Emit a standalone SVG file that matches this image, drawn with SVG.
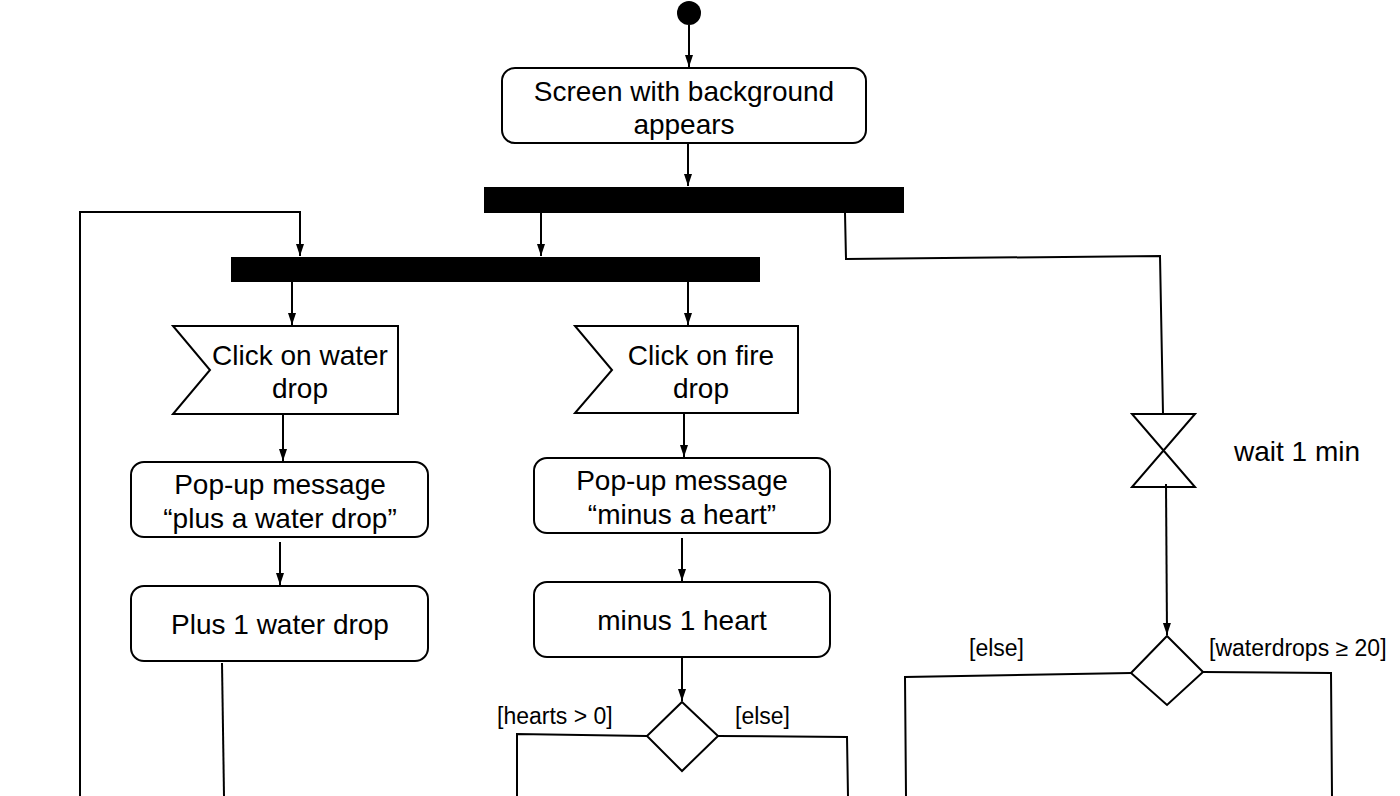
<svg xmlns="http://www.w3.org/2000/svg" width="1400" height="796" viewBox="0 0 1400 796">
<style>
.n{fill:#fff;stroke:#000;stroke-width:2}
.bar{fill:#000}
.c{fill:none;stroke:#000;stroke-width:2}
.t{font-family:"Liberation Sans",Arial,sans-serif;font-size:28px;fill:#000;text-anchor:middle}
.l{font-family:"Liberation Sans",Arial,sans-serif;font-size:23px;fill:#000}
</style>
<defs>
<marker id="a" markerWidth="12" markerHeight="10" refX="12" refY="5" orient="auto" markerUnits="userSpaceOnUse">
<path d="M0,1 L12,5 L0,9 Z" fill="#000"/>
</marker>
</defs>
<rect width="1400" height="796" fill="#fff"/>
<g id="start"><circle cx="689" cy="13" r="12" fill="#000"/></g>
<g id="screen"><rect class="n" x="502" y="68" width="364" height="75" rx="13"/>
<text class="t" x="684" y="101">Screen with background</text><text class="t" x="684" y="134">appears</text></g>
<g id="fork1"><rect class="bar" x="484" y="187" width="420" height="26"/></g>
<g id="fork2"><rect class="bar" x="231" y="257" width="529" height="25"/></g>
<g id="clickWater"><path class="n" d="M173,326 L398,326 L398,414 L173,414 L210,370 Z"/>
<text class="t" x="300" y="365">Click on water</text><text class="t" x="300" y="398">drop</text></g>
<g id="clickFire"><path class="n" d="M575,326 L798,326 L798,413 L575,413 L612,370 Z"/>
<text class="t" x="701" y="365">Click on fire</text><text class="t" x="701" y="398">drop</text></g>
<g id="popWater"><rect class="n" x="131" y="462" width="297" height="75" rx="13"/>
<text class="t" x="280" y="494">Pop-up message</text><text class="t" x="280" y="528">“plus a water drop”</text></g>
<g id="plusWater"><rect class="n" x="131" y="586" width="297" height="75" rx="13"/>
<text class="t" x="280" y="634">Plus 1 water drop</text></g>
<g id="popFire"><rect class="n" x="534" y="458" width="296" height="75" rx="13"/>
<text class="t" x="682" y="490">Pop-up message</text><text class="t" x="682" y="524">“minus a heart”</text></g>
<g id="minusHeart"><rect class="n" x="534" y="582" width="296" height="75" rx="13"/>
<text class="t" x="682" y="630">minus 1 heart</text></g>
<g id="decHearts"><path class="n" d="M682,702 L718,736 L682,771 L647,736 Z"/></g>
<g id="wait"><path class="n" d="M1132,414 L1195,414 L1132,487 L1195,487 Z"/>
<text class="t" x="1297" y="461">wait 1 min</text></g>
<g id="decWater"><path class="n" d="M1167,636 L1203,672 L1167,705 L1131,673 Z"/></g>
<g id="connectors">
<line class="c" x1="689" y1="25" x2="689" y2="67" marker-end="url(#a)"/>
<line class="c" x1="688" y1="143" x2="688" y2="186" marker-end="url(#a)"/>
<line class="c" x1="541" y1="213" x2="541" y2="256" marker-end="url(#a)"/>
<polyline class="c" points="80,796 80,212 300,212 300,256" marker-end="url(#a)"/>
<polyline class="c" points="845,213 846,259 1160,256 1163,414"/>
<line class="c" x1="292" y1="282" x2="292" y2="325" marker-end="url(#a)"/>
<line class="c" x1="688" y1="282" x2="688" y2="325" marker-end="url(#a)"/>
<line class="c" x1="283" y1="414" x2="283" y2="461" marker-end="url(#a)"/>
<line class="c" x1="280" y1="542" x2="280" y2="585" marker-end="url(#a)"/>
<line class="c" x1="222" y1="663" x2="224" y2="796"/>
<line class="c" x1="684" y1="413" x2="684" y2="457" marker-end="url(#a)"/>
<line class="c" x1="682" y1="538" x2="682" y2="581" marker-end="url(#a)"/>
<line class="c" x1="682" y1="657" x2="682" y2="701" marker-end="url(#a)"/>
<polyline class="c" points="647,736 517,734 517,796"/>
<polyline class="c" points="718,736 847,737 848,796"/>
<line class="c" x1="1166" y1="484" x2="1167" y2="635" marker-end="url(#a)"/>
<polyline class="c" points="1131,673 905,677 906,796"/>
<polyline class="c" points="1203,672 1331,673 1332,796"/>
</g>
<g id="labels">
<text class="l" x="497" y="724">[hearts &gt; 0]</text>
<text class="l" x="735" y="724">[else]</text>
<text class="l" x="969" y="656">[else]</text>
<text class="l" x="1209" y="656">[waterdrops ≥ 20]</text>
</g>
</svg>
